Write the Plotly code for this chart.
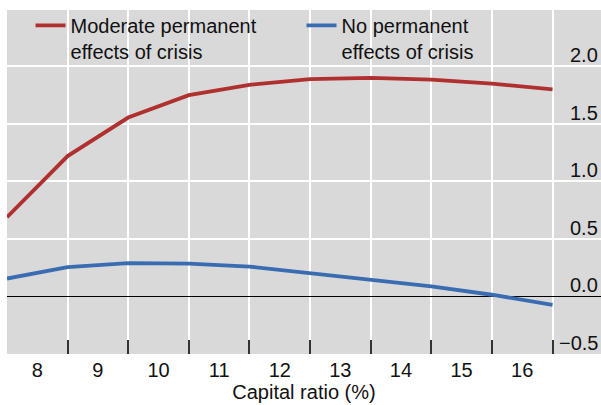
import plotly.graph_objects as go

# capital ratio (%) at which each point is plotted (points sit on the band edges)
capital_ratio = [7.5, 8.5, 9.5, 10.5, 11.5, 12.5, 13.5, 14.5, 15.5, 16.5]
moderate_effects = [0.69, 1.22, 1.555, 1.75, 1.84, 1.89, 1.90, 1.885, 1.85, 1.80]
no_effects = [0.156, 0.255, 0.29, 0.286, 0.26, 0.205, 0.145, 0.087, 0.015, -0.072]

category_ticks = [8, 9, 10, 11, 12, 13, 14, 15, 16]
category_edges = [8.5, 9.5, 10.5, 11.5, 12.5, 13.5, 14.5, 15.5, 16.5]
y_ticks = [-0.5, 0.0, 0.5, 1.0, 1.5, 2.0]
y_tick_text = ["\u22120.5", "0.0", "0.5", "1.0", "1.5", "2.0"]

RED = "#B0302F"
BLUE = "#3A6CB2"
FONT = "Liberation Sans, Arial, sans-serif"

fig = go.Figure()
fig.add_trace(go.Scatter(
    x=capital_ratio, y=moderate_effects, mode="lines",
    line=dict(color=RED, width=3.8),
    name="Moderate permanent<br>effects of crisis"))
fig.add_trace(go.Scatter(
    x=capital_ratio, y=no_effects, mode="lines",
    line=dict(color=BLUE, width=3.8),
    name="No permanent<br>effects of crisis"))

# y labels sit just above their gridlines, inside the grey area on the right
for val, txt in zip(y_ticks, y_tick_text):
    fig.add_annotation(x=1, xref="paper", y=val, yref="y", text=txt,
                       showarrow=False, xanchor="right", yanchor="middle",
                       xshift=-1, yshift=11, font=dict(size=20))

fig.update_layout(
    width=601, height=405,
    margin=dict(l=7, r=0, t=10, b=51),
    paper_bgcolor="white",
    plot_bgcolor="#D9D9D9",
    font=dict(family=FONT, size=20, color="#111111"),
    showlegend=True,
    legend=dict(
        orientation="h", x=0.0396, xanchor="left", y=1.012, yanchor="top",
        bgcolor="rgba(0,0,0,0)", entrywidth=226, entrywidthmode="pixels",
        valign="top", font=dict(size=20), tracegroupgap=0,
    ),
    xaxis=dict(
        range=[7.5, 17.3], tickvals=category_ticks,
        ticktext=[str(v) for v in category_ticks],
        ticks="", showgrid=False, zeroline=False, showline=False,
        tickfont=dict(size=20), ticklabelstandoff=2, automargin=False,
        minor=dict(tickvals=category_edges, ticks="inside", ticklen=14,
                   tickwidth=1.5, tickcolor="#333333",
                   showgrid=True, gridcolor="white", gridwidth=1.5),
        title=dict(text="Capital ratio (%)", font=dict(size=20), standoff=3),
    ),
    yaxis=dict(
        range=[-0.5, 2.49], side="right", tickvals=y_ticks,
        showticklabels=False, ticks="",
        showgrid=True, gridcolor="white", gridwidth=1.5,
        zeroline=True, zerolinecolor="black", zerolinewidth=1.2,
        showline=False, automargin=False,
    ),
)

# drop the default page margin so the 601x405 figure fills the window exactly
fig.write_html("out.html", config={"displayModeBar": False},
               post_script="document.body.style.margin = '0';")
